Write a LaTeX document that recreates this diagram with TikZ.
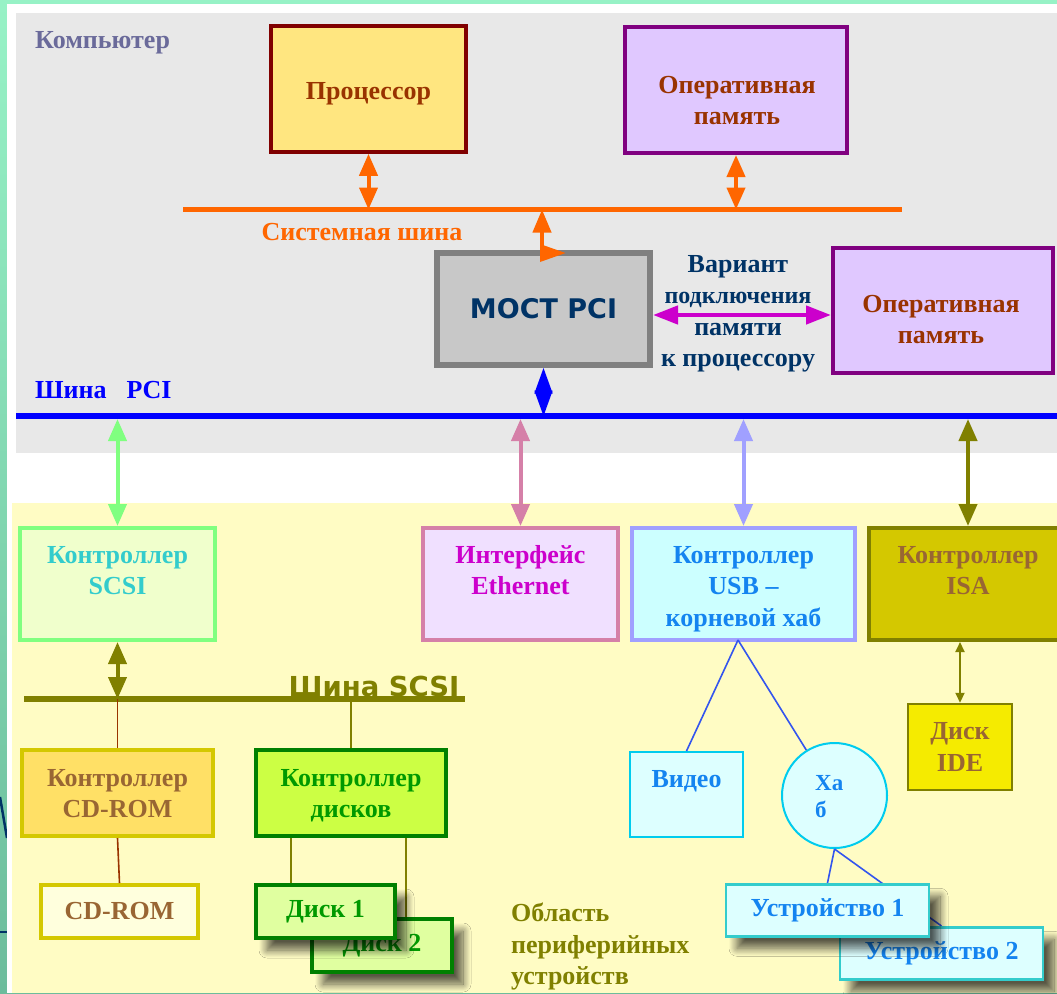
\documentclass[tikz,border=0pt]{standalone}
\usepackage{fontspec}
\setmainfont{Liberation Serif}
\newfontfamily\vsans{DejaVu Sans}
\usetikzlibrary{arrows.meta,calc,shadows.blur}

\definecolor{bgtop}{HTML}{97F2C6}
\definecolor{bgbottom}{HTML}{6CBC9C}
\definecolor{panelgray}{HTML}{E8E8E8}
\definecolor{periyellow}{HTML}{FFFCC4}
\definecolor{busorange}{HTML}{FF6600}
\definecolor{pciblue}{HTML}{0000FF}
\definecolor{navy}{HTML}{003366}
\definecolor{rust}{HTML}{993300}
\definecolor{slate}{HTML}{6A6A9A}
\definecolor{procfill}{HTML}{FFE680}
\definecolor{procdraw}{HTML}{800000}
\definecolor{memfill}{HTML}{E0C8FF}
\definecolor{memdraw}{HTML}{800080}
\definecolor{bridgefill}{HTML}{C8C8C8}
\definecolor{bridgedraw}{HTML}{808080}
\definecolor{magarrow}{HTML}{CC00CC}
\definecolor{scsigreen}{HTML}{80FF80}
\definecolor{scsifill}{HTML}{F0FFCC}
\definecolor{scsitext}{HTML}{33CCCC}
\definecolor{ethdraw}{HTML}{D580A8}
\definecolor{ethfill}{HTML}{F0E0FF}
\definecolor{usbdraw}{HTML}{A0A0FF}
\definecolor{usbfill}{HTML}{CCFFFF}
\definecolor{usbtext}{HTML}{1484F0}
\definecolor{isafill}{HTML}{D4C800}
\definecolor{olive}{HTML}{808000}
\definecolor{brownish}{HTML}{996633}
\definecolor{cdfill}{HTML}{FFE066}
\definecolor{cddraw}{HTML}{D4C800}
\definecolor{cdromfill}{HTML}{FFFFDD}
\definecolor{diskfill}{HTML}{E0FFA0}
\definecolor{dctrlfill}{HTML}{CCFF44}
\definecolor{darkgreen}{HTML}{008000}
\definecolor{greentext}{HTML}{009900}
\definecolor{cyandraw}{HTML}{00CCEE}
\definecolor{devdraw}{HTML}{33CCCC}
\definecolor{lightcyan}{HTML}{DDFFFF}
\definecolor{linkblue}{HTML}{3355EE}
\definecolor{idefill}{HTML}{F5EB00}

\tikzset{
  txt/.style={font=\fontsize{26}{31.5}\selectfont\bfseries, inner sep=0pt, align=center},
  box/.style={txt, rectangle},
  dbl/.style={line width=4pt, >={Triangle[length=22pt,width=18pt]}, <->},
  thinlink/.style={line width=1.6pt},
  softshadow/.style={blur shadow={shadow xshift=11pt, shadow yshift=-12pt,
      shadow blur radius=8pt, shadow blur steps=12, shadow opacity=65}},
}

\begin{document}
\begin{tikzpicture}[x=1pt,y=-1pt]
\useasboundingbox (0,0) rectangle (1057,993);

% backdrop and the two areas
\shade[top color=bgtop, bottom color=bgbottom] (0,0) rectangle (1057,993);
\draw[navy, line width=2.5pt] (0,797) -- (7,838);
\draw[navy, line width=2pt] (0,932) -- (7,932);
\fill[white] (7,4) rectangle (1057,993);
\fill[panelgray] (16,13) rectangle (1057,453);
\fill[periyellow] (12,503) rectangle (1057,993);

\node[txt, text=slate, anchor=base west] (complabel) at (35,48) {Компьютер};

% computer core
\node[box, fill=procfill, draw=procdraw, line width=3.5pt, minimum width=195pt,
      minimum height=126pt] (proc) at (368.5,89) {};
\node[txt, text=rust, anchor=base] (proc-t) at (368.5,99) {Процессор};
\node[box, fill=memfill, draw=memdraw, line width=4pt, minimum width=222pt,
      minimum height=126pt] (mem1) at (736,90) {};
\node[txt, text=rust, anchor=north] (mem1-t) at (737,76) {Оперативная\\память};

\coordinate (sysL) at (183,209.5);
\coordinate (sysR) at (902,209.5);
\draw[busorange, line width=5pt] (sysL) -- (sysR);
\node[txt, text=busorange, anchor=base] (syslabel) at (362,240) {Системная шина};

\draw[dbl, busorange] (proc.south) -- (proc.south |- sysL);
\draw[dbl, busorange] (mem1.south) -- (mem1.south |- sysL);

\node[box, fill=bridgefill, draw=bridgedraw, line width=6pt, minimum width=213pt,
      minimum height=112pt, text=navy, font=\vsans\fontsize{27}{30}\selectfont\bfseries]
      (bridge) at (543.5,309) {МОСТ PCI};
\coordinate (brtap) at ($(bridge.north)+(-1.5,9)$);
\draw[busorange, line width=4pt, -{Triangle[length=23pt,width=18pt]}] (brtap) -- (brtap |- sysL);
\fill[busorange] ($(brtap)+(-2,-15)$) -- ($(brtap)+(23.5,-6)$) -- ($(brtap)+(-2,3)$) -- cycle;

\node[box, fill=memfill, draw=memdraw, line width=4pt, minimum width=220pt,
      minimum height=125pt] (mem2) at (943,310) {};
\node[txt, text=rust, anchor=north] (mem2-t) at (941,295) {Оперативная\\память};

\draw[magarrow, line width=4.5pt, >={Triangle[length=25pt,width=18pt]}, <->]
  ([yshift=-6pt]bridge.east) -- ([yshift=-6pt]bridge.east -| mem2.west);
\node[txt, text=navy, anchor=north] (variant) at (738,255)
  {Вариант\\ {\fontsize{24}{31.5}\selectfont подключения}\\памяти\\к процессору};

% PCI bus
\node[txt, text=pciblue, anchor=base west] (pcilabel) at (35,398) {Шина\hspace{20pt}PCI};
\coordinate (pciL) at (16,416);
\coordinate (pciR) at (1057,416);
\coordinate (pciB) at (16,419);
\draw[pciblue, line width=6pt] (pciL) -- (pciR);
\draw[pciblue, line width=1.5pt, >={Triangle[length=25.5pt,width=18pt]}, <->]
  (bridge.south) -- (bridge.south |- pciL);

% peripheral controllers
\node[box, fill=scsifill, draw=scsigreen, line width=4pt, minimum width=195pt,
      minimum height=112pt] (scsi) at (117.5,584) {};
\node[txt, text=scsitext, anchor=north] (scsi-t) at ([yshift=-20pt]scsi.north) {Контроллер\\SCSI};
\node[box, fill=ethfill, draw=ethdraw, line width=4pt, minimum width=195pt,
      minimum height=112pt] (eth) at (520.5,584) {};
\node[txt, text=magarrow, anchor=north] (eth-t) at ([yshift=-19pt]eth.north) {Интерфейс\\Ethernet};
\node[box, fill=usbfill, draw=usbdraw, line width=4pt, minimum width=223pt,
      minimum height=112pt] (usb) at (743.5,584) {};
\node[txt, text=usbtext, anchor=north] (usb-t) at ([yshift=-20pt]usb.north) {Контроллер\\USB --\\корневой хаб};
\node[box, fill=isafill, draw=olive, line width=4pt, minimum width=198pt,
      minimum height=112pt] (isa) at (968,584) {};
\node[txt, text=brownish, anchor=north] (isa-t) at ([yshift=-20pt]isa.north) {Контроллер\\ISA};

\draw[dbl, scsigreen] (scsi.north |- pciB) -- (scsi.north);
\draw[dbl, ethdraw] (eth.north |- pciB) -- (eth.north);
\draw[dbl, usbdraw] (usb.north |- pciB) -- (usb.north);
\draw[dbl, olive] (isa.north |- pciB) -- (isa.north);

% SCSI bus and its devices
\coordinate (scsibusL) at (24,699);
\coordinate (scsibusR) at (465,699);
\draw[olive, line width=6pt] (scsibusL) -- (scsibusR);
\node[txt, text=olive, font=\vsans\fontsize{27.5}{30}\selectfont\bfseries] (scsilabel) at (374,686) {Шина SCSI};
\draw[dbl, olive] (scsi.south) -- (scsi.south |- scsibusL);

\node[box, fill=cdfill, draw=cddraw, line width=4pt, minimum width=191pt,
      minimum height=86pt] (cdctrl) at (117.5,793) {};
\node[txt, text=brownish, anchor=north] (cdctrl-t) at ([yshift=-21pt]cdctrl.north) {Контроллер\\CD-ROM};
\node[box, fill=cdromfill, draw=cddraw, line width=4pt, minimum width=157pt,
      minimum height=53pt, text=brownish] (cdrom) at (119.5,911.5) {CD-ROM};
\draw[rust, thinlink] (cdctrl.north |- scsibusL) -- (cdctrl.north);
\draw[rust, thinlink] (cdctrl.south) -- (cdrom.north);

\node[box, fill=dctrlfill, draw=darkgreen, line width=4pt, minimum width=190pt,
      minimum height=86pt] (dctrl) at (351,793) {};
\node[txt, text=greentext, anchor=north] (dctrl-t) at ([yshift=-21pt]dctrl.north) {Контроллер\\дисков};
\draw[olive, thinlink] (dctrl.north |- scsibusL) -- (dctrl.north);

\coordinate (d1link) at (291,885);
\coordinate (d2link) at (406,919);
\draw[olive, thinlink] (d1link |- dctrl.south) -- (d1link);
\draw[olive, thinlink] (d2link |- dctrl.south) -- (d2link);
\node[box, softshadow, fill=diskfill, draw=darkgreen, line width=4pt, minimum width=140pt,
      minimum height=53pt, text=greentext] (disk2) at (382,945.5) {Диск 2};
\node[box, softshadow, fill=diskfill, draw=darkgreen, line width=4pt, minimum width=139pt,
      minimum height=53pt, text=greentext] (disk1) at (325.5,911.5) {Диск 1};

\node[txt, text=olive, align=left, anchor=north west] (area) at (511,903)
  {Область\\периферийных\\устройств};

% USB tree
\node[box, fill=lightcyan, draw=cyandraw, line width=2pt, minimum width=113pt,
      minimum height=85pt] (video) at (686.5,794.5) {};
\node[txt, text=usbtext, anchor=north] (video-t) at ([yshift=-19pt]video.north) {Видео};
\node[circle, fill=lightcyan, draw=cyandraw, line width=2pt, minimum size=105pt,
      inner sep=0pt] (hub) at (834.5,795.5) {};
\node[txt, text=usbtext, align=left, anchor=north west,
      font=\fontsize{23}{27}\selectfont\bfseries] (hub-t) at (815,775) {Ха\\б};

\coordinate (usbtap) at (738,640);
\coordinate (dev1top) at (827.5,883);
\coordinate (dev2top) at (941.5,926);
\draw[linkblue, thinlink] (usbtap) -- (video.north);
\draw[linkblue, thinlink] (usbtap) -- (hub);
\draw[linkblue, thinlink] (hub.south) -- (dev1top);
\draw[linkblue, thinlink] (hub.south) -- (dev2top);

\node[box, softshadow, fill=lightcyan, draw=devdraw, line width=2.5pt, minimum width=203pt,
      minimum height=52pt, text=usbtext, anchor=north] (dev2) at (dev2top) {Устройство 2};
\node[box, softshadow, fill=lightcyan, draw=devdraw, line width=2.5pt, minimum width=203pt,
      minimum height=52pt, text=usbtext, anchor=north] (dev1) at (dev1top) {Устройство 1};

% ISA side
\node[box, fill=idefill, draw=olive, line width=2.5pt, minimum width=104pt,
      minimum height=86pt, text=brownish] (ide) at (960,747) {Диск\\IDE};
\draw[olive, line width=2pt, >={Triangle[length=10pt,width=9pt]}, <->]
  (ide.north |- isa.south) -- (ide.north);
\end{tikzpicture}
\end{document}
